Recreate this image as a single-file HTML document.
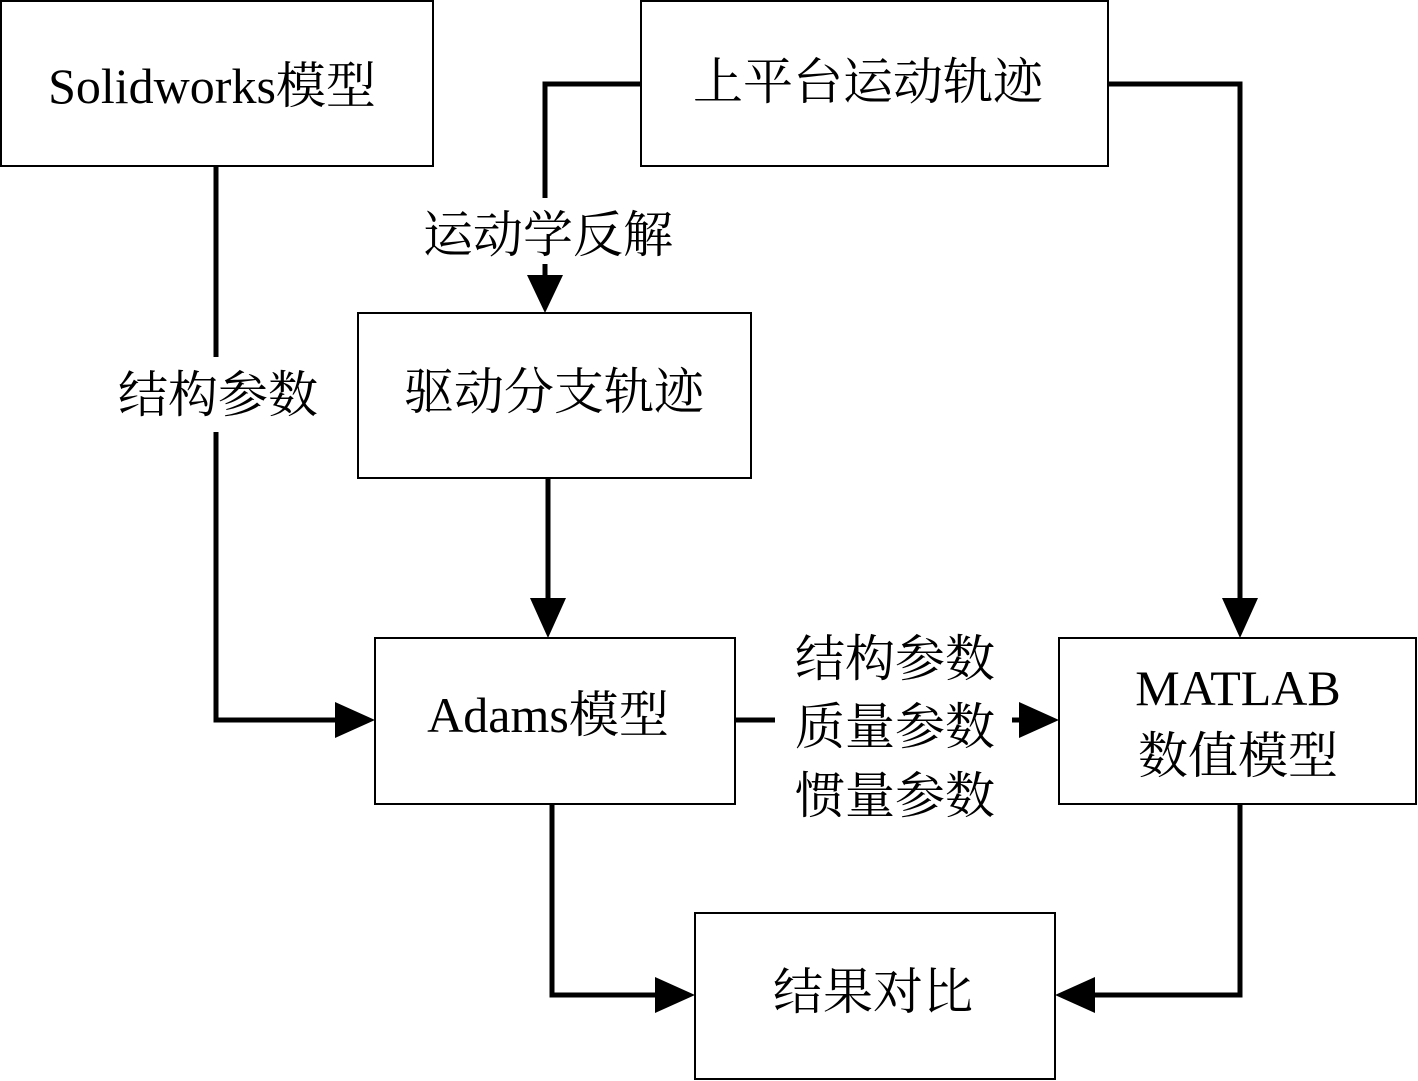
<!DOCTYPE html>
<html><head><meta charset="utf-8"><style>
html,body{margin:0;padding:0;background:#fff;}
svg{display:block;}
text{font-family:"Liberation Serif","Noto Serif CJK SC",serif;fill:#000;}
</style></head><body>
<svg width="1418" height="1081" viewBox="0 0 1418 1081" xmlns="http://www.w3.org/2000/svg">
<g fill="none" stroke="#000" stroke-width="2">
<rect x="1" y="1" width="432" height="165"/>
<rect x="641" y="1" width="467" height="165"/>
<rect x="358" y="313" width="393" height="165"/>
<rect x="375" y="638" width="360" height="166"/>
<rect x="1059" y="638" width="357" height="166"/>
<rect x="695" y="913" width="360" height="166"/>
</g>
<g fill="none" stroke="#000" stroke-width="5" stroke-linejoin="miter">
<polyline points="641,84 545,84 545,198"/>
<line x1="545" y1="264" x2="545" y2="280"/>
<line x1="216" y1="166" x2="216" y2="357"/>
<polyline points="216,432 216,720 340,720"/>
<line x1="548" y1="478" x2="548" y2="602"/>
<polyline points="1108,84 1240,84 1240,602"/>
<line x1="735" y1="720" x2="775" y2="720"/>
<line x1="1012" y1="720" x2="1022" y2="720"/>
<polyline points="552,804 552,995 660,995"/>
<polyline points="1240,804 1240,995 1090,995"/>
</g>
<g fill="#000">
<polygon points="527,275 563,275 545,313"/>
<polygon points="335,702 335,738 375,720"/>
<polygon points="530,598 566,598 548,638"/>
<polygon points="1222,598 1258,598 1240,638"/>
<polygon points="1019,702 1019,738 1059,720"/>
<polygon points="655,977 655,1013 695,995"/>
<polygon points="1095,977 1095,1013 1055,995"/>
</g>
<g font-size="50" text-anchor="middle" dominant-baseline="central">
<text x="212" y="86">Solidworks模型</text>
<text x="868" y="82">上平台运动轨迹</text>
<text x="548" y="235">运动学反解</text>
<text x="218" y="395">结构参数</text>
<text x="554" y="392">驱动分支轨迹</text>
<text x="548" y="715">Adams模型</text>
<text x="895" y="659">结构参数</text>
<text x="895" y="727">质量参数</text>
<text x="895" y="796">惯量参数</text>
<text x="1238" y="688">MATLAB</text>
<text x="1238" y="756">数值模型</text>
<text x="873" y="992">结果对比</text>
</g>
</svg>
</body></html>
